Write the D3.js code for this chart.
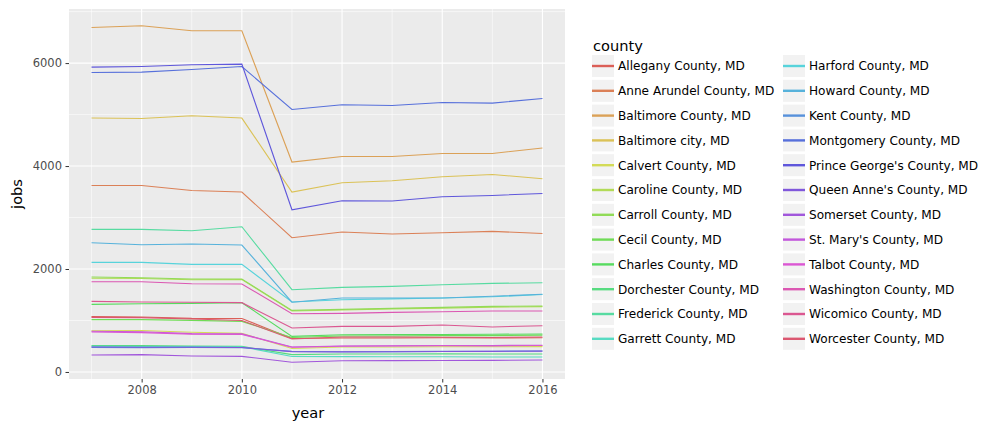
<!DOCTYPE html>
<html>
<head>
<meta charset="utf-8">
<script src="https://cdn.jsdelivr.net/npm/d3@7"></script>
<style>
  body { margin: 0; background: #fff; }
  text { font-family: "DejaVu Sans", sans-serif; }
</style>
</head>
<body>
<svg id="chart" width="1007" height="430"></svg>
<script>
const years = [2007, 2008, 2009, 2010, 2011, 2012, 2013, 2014, 2015, 2016];
const counties = [
  "Allegany County, MD", "Anne Arundel County, MD", "Baltimore County, MD", "Baltimore city, MD",
  "Calvert County, MD", "Caroline County, MD", "Carroll County, MD", "Cecil County, MD",
  "Charles County, MD", "Dorchester County, MD", "Frederick County, MD", "Garrett County, MD",
  "Harford County, MD", "Howard County, MD", "Kent County, MD", "Montgomery County, MD",
  "Prince George's County, MD", "Queen Anne's County, MD", "Somerset County, MD", "St. Mary's County, MD",
  "Talbot County, MD", "Washington County, MD", "Wicomico County, MD", "Worcester County, MD"
];
const allegany     = [1074, 1068, 1041, 1040, 650, 660, 660, 665, 660, 665];
const anneArundel  = [3623, 3623, 3526, 3495, 2608, 2718, 2680, 2705, 2730, 2691];
const baltCounty   = [6691, 6724, 6627, 6627, 4078, 4186, 4186, 4245, 4245, 4350];
const baltCity     = [4932, 4925, 4977, 4932, 3495, 3676, 3715, 3792, 3837, 3753];
const calvert      = [800, 805, 770, 750, 455, 485, 485, 490, 490, 492];
const caroline     = [1820, 1815, 1790, 1795, 1185, 1205, 1225, 1240, 1260, 1270];
const carroll      = [1845, 1831, 1806, 1806, 1196, 1216, 1235, 1254, 1274, 1282];
const cecil        = [1016, 1016, 1002, 983, 670, 700, 700, 705, 705, 715];
const charles      = [1313, 1326, 1333, 1346, 691, 724, 725, 728, 732, 738];
const dorchester   = [511, 511, 505, 497, 336, 350, 350, 352, 350, 350];
const frederick    = [2769, 2769, 2744, 2821, 1598, 1643, 1662, 1695, 1720, 1734];
const garrett      = [500, 495, 495, 490, 300, 297, 295, 295, 292, 291];
const harford      = [2128, 2128, 2089, 2089, 1360, 1404, 1420, 1437, 1460, 1505];
const howard       = [2511, 2472, 2485, 2466, 1355, 1437, 1437, 1437, 1470, 1510];
const kent         = [478, 472, 478, 472, 400, 394, 395, 400, 402, 408];
const montgomery   = [5817, 5825, 5876, 5934, 5099, 5190, 5177, 5235, 5223, 5313];
const princeGeorge = [5922, 5934, 5967, 5980, 3151, 3326, 3320, 3404, 3429, 3468];
const queenAnne    = [485, 480, 480, 475, 395, 390, 392, 398, 400, 405];
const somerset     = [330, 336, 311, 303, 190, 219, 220, 222, 225, 233];
const stMary       = [790, 780, 745, 740, 485, 505, 510, 515, 515, 520];
const talbot       = [775, 765, 735, 730, 480, 500, 505, 510, 505, 515];
const washington   = [1753, 1753, 1715, 1709, 1132, 1138, 1157, 1171, 1184, 1184];
const wicomico     = [1371, 1359, 1353, 1346, 854, 885, 885, 912, 874, 899];
const worcester    = [1060, 1055, 1030, 1000, 640, 680, 680, 675, 670, 680];

const seriesValues = [allegany, anneArundel, baltCounty, baltCity, calvert, caroline, carroll, cecil,
  charles, dorchester, frederick, garrett, harford, howard, kent, montgomery, princeGeorge, queenAnne,
  somerset, stMary, talbot, washington, wicomico, worcester];
const xTicks = [2008, 2010, 2012, 2014, 2016];
const xMinor = [2007, 2009, 2011, 2013, 2015];
const yTicks = [0, 2000, 4000, 6000];
const yMinor = [1000, 3000, 5000, 7000];

// plotnine/mizani default hue palette (HLS, l=.6, s=.65, h offset .01)
const colors = counties.map((c, i) => d3.hsl(((i / counties.length + 0.01) % 1) * 360, 0.65, 0.6).formatHex());

const svg = d3.select("#chart");
const P = { left: 69, right: 565, top: 9, bottom: 379 };

const xExt = d3.extent(years);
const xPad = (xExt[1] - xExt[0]) * 0.05;
const x = d3.scaleLinear().domain([xExt[0] - xPad, xExt[1] + xPad]).range([P.left, P.right]);
const allVals = seriesValues.flat();
const yExt = d3.extent(allVals);
const yPad = (yExt[1] - yExt[0]) * 0.05;
const y = d3.scaleLinear().domain([yExt[0] - yPad, yExt[1] + yPad]).range([P.bottom, P.top]);

svg.append("rect").attr("width", 1007).attr("height", 430).attr("fill", "#fff");
svg.append("rect").attr("x", P.left).attr("y", P.top)
  .attr("width", P.right - P.left).attr("height", P.bottom - P.top).attr("fill", "#EBEBEB");

const grid = svg.append("g");
grid.selectAll(".ymin").data(yMinor.filter(v => y(v) >= P.top && y(v) <= P.bottom)).join("line")
  .attr("x1", P.left).attr("x2", P.right).attr("y1", d => y(d)).attr("y2", d => y(d))
  .attr("stroke", "#fff").attr("stroke-width", 0.55);
grid.selectAll(".xmin").data(xMinor).join("line")
  .attr("y1", P.top).attr("y2", P.bottom).attr("x1", d => x(d)).attr("x2", d => x(d))
  .attr("stroke", "#fff").attr("stroke-width", 0.55);
grid.selectAll(".ymaj").data(yTicks).join("line")
  .attr("x1", P.left).attr("x2", P.right).attr("y1", d => y(d)).attr("y2", d => y(d))
  .attr("stroke", "#fff").attr("stroke-width", 1.1);
grid.selectAll(".xmaj").data(xTicks).join("line")
  .attr("y1", P.top).attr("y2", P.bottom).attr("x1", d => x(d)).attr("x2", d => x(d))
  .attr("stroke", "#fff").attr("stroke-width", 1.1);

// axes
const xAxis = d3.axisBottom(x).tickValues(xTicks).tickFormat(d3.format("d")).tickSize(3.5).tickPadding(3.5);
const gx = svg.append("g").attr("transform", `translate(0,${P.bottom})`).call(xAxis);
gx.select(".domain").remove();
gx.selectAll("line").attr("stroke", "#333").attr("stroke-width", 1);
gx.selectAll("text").attr("fill", "#4D4D4D").style("font-size", "11.5px").style("font-family", "DejaVu Sans");

const yAxis = d3.axisLeft(y).tickValues(yTicks).tickFormat(d3.format("d")).tickSize(3.5).tickPadding(3.5);
const gy = svg.append("g").attr("transform", `translate(${P.left},0)`).call(yAxis);
gy.select(".domain").remove();
gy.selectAll("line").attr("stroke", "#333").attr("stroke-width", 1);
gy.selectAll("text").attr("fill", "#4D4D4D").style("font-size", "11.5px").style("font-family", "DejaVu Sans");

svg.append("text").attr("x", (P.left + P.right) / 2 - 9).attr("y", 418).attr("text-anchor", "middle")
  .style("font-size", "14.6px").attr("fill", "#000").text("year");
svg.append("text").attr("transform", `translate(22,${(P.top + P.bottom) / 2}) rotate(-90)`)
  .attr("text-anchor", "middle").style("font-size", "14.6px").attr("fill", "#000").text("jobs");

// lines
const line = d3.line().x((d, i) => x(years[i])).y(d => y(d));
svg.append("g").selectAll("path").data(seriesValues).join("path")
  .attr("d", d => line(d)).attr("fill", "none")
  .attr("stroke", (d, i) => colors[i]).attr("stroke-width", 1.1);

// legend
const leg = svg.append("g");
leg.append("text").attr("x", 593).attr("y", 51).style("font-size", "14.6px").attr("fill", "#000").text("county");
const perCol = 12;
const items = leg.selectAll(".item").data(counties).join("g")
  .attr("transform", (d, i) => `translate(${i < perCol ? 592 : 783},${55 + (i % perCol) * 24.8})`);
items.append("rect").attr("width", 22).attr("height", 22).attr("fill", "#F2F2F2");
items.append("line").attr("x1", 0).attr("x2", 22).attr("y1", 11).attr("y2", 11)
  .attr("stroke", (d, i) => colors[i]).attr("stroke-width", 2.4);
items.append("text").attr("x", 26).attr("y", 11).attr("dy", "0.36em")
  .style("font-size", "12.1px").attr("fill", "#000").text(d => d);
</script>
</body>
</html>
